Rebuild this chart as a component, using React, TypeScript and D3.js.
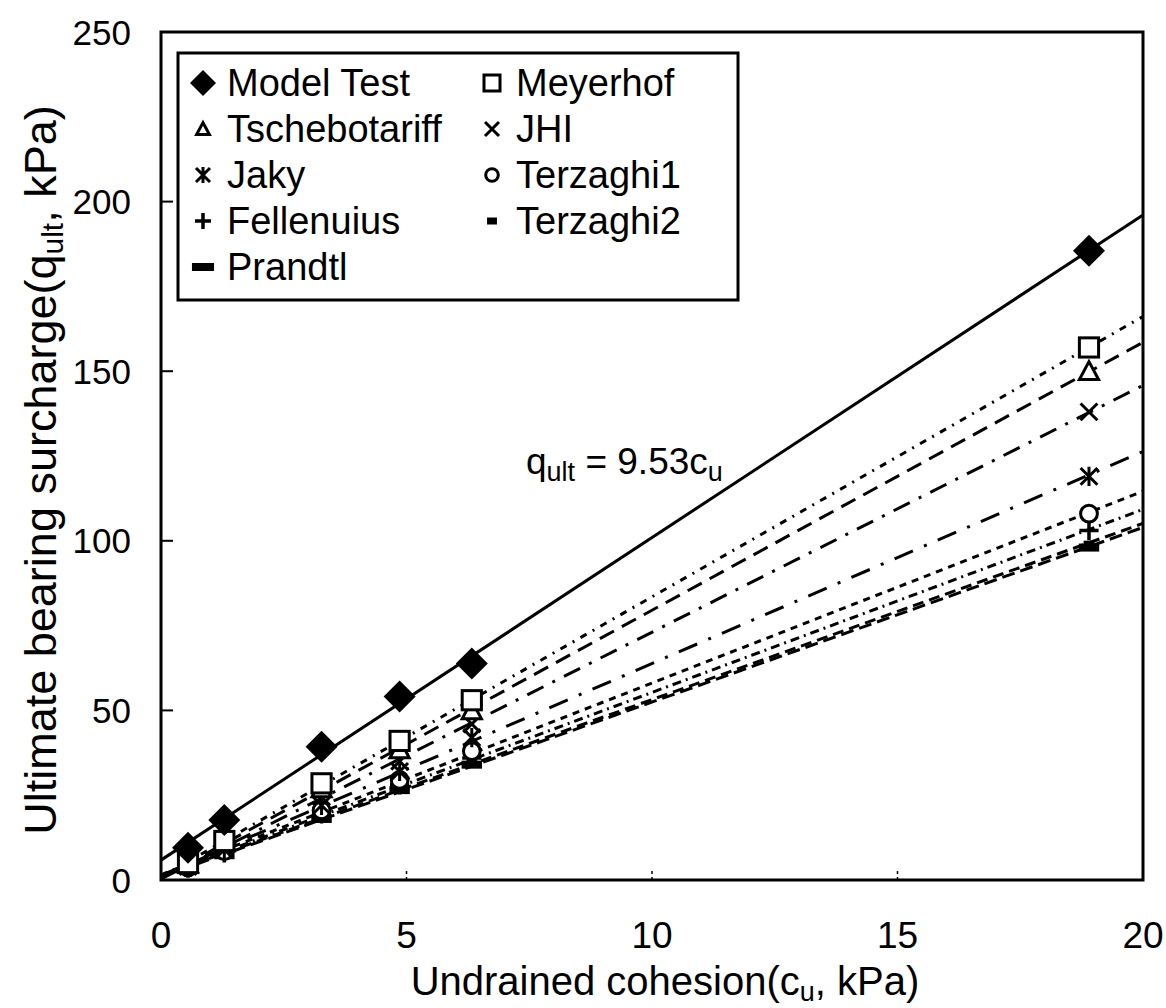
import * as React from 'react';
import * as d3 from 'd3';

// undrained cohesion of each test (kPa)
const cohesion = [0.55, 1.29, 3.27, 4.86, 6.33, 18.9];

// ultimate bearing surcharge (kPa)
const modelTest = [9.5, 17.7, 39.3, 54.1, 63.8, 185.5];
const meyerhof = [5, 11.5, 28.5, 41, 53, 157];
const tschebotariff = [4.8, 11, 27, 38.5, 50, 150];
const jhi = [4.4, 10, 24.5, 35, 46, 138];
const jaky = [4, 9, 22, 32, 42, 119];
const terzaghi1 = [3.7, 8.5, 20.5, 29.5, 38, 108];
const fellenuius = [3.5, 8, 19.5, 28, 36, 103];
const terzaghi2 = [3.3, 7.5, 18.5, 27, 35, 99];
const prandtl = [3.2, 7.3, 18, 26.5, 34, 98];

const xTicks = [0, 5, 10, 15, 20];
const yTicks = [0, 50, 100, 150, 200, 250];

type Kind = 'diamond' | 'square' | 'triangle' | 'x' | 'asterisk' | 'circle' | 'plus' | 'dash' | 'bar';

const series: { name: string; values: number[]; kind: Kind; dash: string }[] = [
  { name: 'Model Test', values: modelTest, kind: 'diamond', dash: '' },
  { name: 'Meyerhof', values: meyerhof, kind: 'square', dash: '7,7,2,7' },
  { name: 'Tschebotariff', values: tschebotariff, kind: 'triangle', dash: '16,9' },
  { name: 'JHI', values: jhi, kind: 'x', dash: '18,10,3,10' },
  { name: 'Jaky', values: jaky, kind: 'asterisk', dash: '20,12,3,12' },
  { name: 'Terzaghi1', values: terzaghi1, kind: 'circle', dash: '7,6' },
  { name: 'Fellenuius', values: fellenuius, kind: 'plus', dash: '9,5,2,5' },
  { name: 'Terzaghi2', values: terzaghi2, kind: 'dash', dash: '11,6' },
  { name: 'Prandtl', values: prandtl, kind: 'bar', dash: '13,6' },
];

const FONT = '"Liberation Sans", Arial, sans-serif';

// least squares trend line through a series
function fit(xs: number[], ys: number[]) {
  const mx = d3.mean(xs)!;
  const my = d3.mean(ys)!;
  const sxy = d3.sum(xs, (x, i) => (x - mx) * (ys[i] - my));
  const sxx = d3.sum(xs, (x) => (x - mx) * (x - mx));
  const slope = sxy / sxx;
  return { slope, intercept: my - slope * mx };
}

function Marker({ kind, x, y, s }: { kind: Kind; x: number; y: number; s: number }) {
  const h = s / 2;
  const sw = 3;
  switch (kind) {
    case 'diamond':
      return <path d={`M${x},${y - h}L${x + h},${y}L${x},${y + h}L${x - h},${y}Z`} fill="#000" />;
    case 'square':
      return <rect x={x - h * 0.8} y={y - h * 0.8} width={s * 0.8} height={s * 0.8} fill="#fff" stroke="#000" strokeWidth={sw} />;
    case 'triangle':
      return <path d={`M${x},${y - h * 0.8}L${x + h * 0.8},${y + h * 0.7}L${x - h * 0.8},${y + h * 0.7}Z`} fill="#fff" stroke="#000" strokeWidth={sw} />;
    case 'x':
      return <path d={`M${x - h * 0.7},${y - h * 0.7}L${x + h * 0.7},${y + h * 0.7}M${x + h * 0.7},${y - h * 0.7}L${x - h * 0.7},${y + h * 0.7}`} stroke="#000" strokeWidth={sw} />;
    case 'asterisk':
      return <path d={`M${x - h * 0.7},${y - h * 0.7}L${x + h * 0.7},${y + h * 0.7}M${x + h * 0.7},${y - h * 0.7}L${x - h * 0.7},${y + h * 0.7}M${x},${y - h * 0.8}L${x},${y + h * 0.8}`} stroke="#000" strokeWidth={sw} />;
    case 'circle':
      return <circle cx={x} cy={y} r={h * 0.7} fill="#fff" stroke="#000" strokeWidth={sw} />;
    case 'plus':
      return <path d={`M${x - h * 0.8},${y}L${x + h * 0.8},${y}M${x},${y - h * 0.8}L${x},${y + h * 0.8}`} stroke="#000" strokeWidth={sw + 0.5} />;
    case 'dash':
      return <rect x={x - h * 0.45} y={y - 3.5} width={s * 0.45} height={7} fill="#000" />;
    case 'bar':
      return <rect x={x - h * 0.85} y={y - 4} width={s * 0.85} height={8} fill="#000" />;
  }
}

export default function App() {
  const left = 161, right = 1143, top = 32, bottom = 880;
  const x = d3.scaleLinear().domain([0, 20]).range([left, right]);
  const y = d3.scaleLinear().domain([0, 250]).range([bottom, top]);

  const legendRows = [
    ['Model Test', 'Meyerhof'],
    ['Tschebotariff', 'JHI'],
    ['Jaky', 'Terzaghi1'],
    ['Fellenuius', 'Terzaghi2'],
    ['Prandtl', ''],
  ];
  const byName = (n: string) => series.find((s) => s.name === n)!;
  const legendMarkSize: Record<Kind, number> = {
    diamond: 26, square: 20, triangle: 16, x: 20, asterisk: 20, circle: 18, plus: 20, dash: 22, bar: 26,
  };

  return (
    <svg width={1166} height={1008} style={{ position: 'absolute', left: 0, top: 0, background: '#fff' }} fontFamily={FONT}>
      <rect x={0} y={0} width={1166} height={1008} fill="#fff" />

      {/* trend lines */}
      {series.map((s) => {
        const { slope, intercept } = fit(cohesion, s.values);
        return (
          <path
            key={'l' + s.name}
            d={d3.line<number>().x((v) => x(v)).y((v) => y(intercept + slope * v))(x.domain())!}
            fill="none"
            stroke="#000"
            strokeWidth={3}
            strokeDasharray={s.dash || undefined}
          />
        );
      })}

      {/* markers, lowest series first */}
      {series.slice().reverse().map((s) =>
        s.values.map((v, i) => (
          <Marker key={s.name + i} kind={s.kind} x={x(cohesion[i])} y={y(v)} s={s.kind === 'diamond' ? 32 : 24} />
        ))
      )}

      {/* frame */}
      <rect x={left} y={top} width={right - left} height={bottom - top} fill="none" stroke="#000" strokeWidth={3} />
      {yTicks.slice(1, -1).map((t) => (
        <line key={'yt' + t} x1={left} x2={left + 12} y1={y(t)} y2={y(t)} stroke="#000" strokeWidth={2} />
      ))}
      {xTicks.slice(1, -1).map((t) => (
        <line key={'xt' + t} x1={x(t)} x2={x(t)} y1={bottom} y2={bottom - 10} stroke="#000" strokeWidth={1.5} strokeDasharray="3,3" />
      ))}

      {/* tick labels */}
      {yTicks.map((t) => (
        <text key={'yl' + t} x={131} y={y(t)} textAnchor="end" dominantBaseline="central" fontSize={35}>
          {t}
        </text>
      ))}
      {xTicks.map((t) => (
        <text key={'xl' + t} x={x(t)} y={948} textAnchor="middle" fontSize={37}>
          {t}
        </text>
      ))}

      {/* axis titles */}
      <text x={665} y={995} textAnchor="middle" fontSize={40}>
        Undrained cohesion(c<tspan fontSize={27} dy={6}>u</tspan>
        <tspan dy={-6}>, kPa)</tspan>
      </text>
      <text transform={`translate(56,${470}) rotate(-90)`} textAnchor="middle" fontSize={45}>
        Ultimate bearing surcharge(q<tspan fontSize={30} dy={7}>ult</tspan>
        <tspan dy={-7}>, kPa)</tspan>
      </text>

      {/* equation */}
      <text x={526} y={474} fontSize={37}>
        q<tspan fontSize={27} dy={7}>ult</tspan>
        <tspan dy={-7}> = 9.53c</tspan>
        <tspan fontSize={27} dy={7}>u</tspan>
      </text>

      {/* legend */}
      <rect x={178} y={53} width={560} height={247} fill="#fff" stroke="#000" strokeWidth={3} />
      {legendRows.map((row, r) =>
        row.map((name, c) => {
          if (!name) return null;
          const s = byName(name);
          const cy = 83 + r * 46;
          const mx = c === 0 ? 203 : 492;
          return (
            <g key={name}>
              <Marker kind={s.kind} x={mx} y={cy} s={legendMarkSize[s.kind]} />
              <text x={mx + 24} y={cy} dominantBaseline="central" fontSize={38}>
                {name}
              </text>
            </g>
          );
        })
      )}
    </svg>
  );
}
